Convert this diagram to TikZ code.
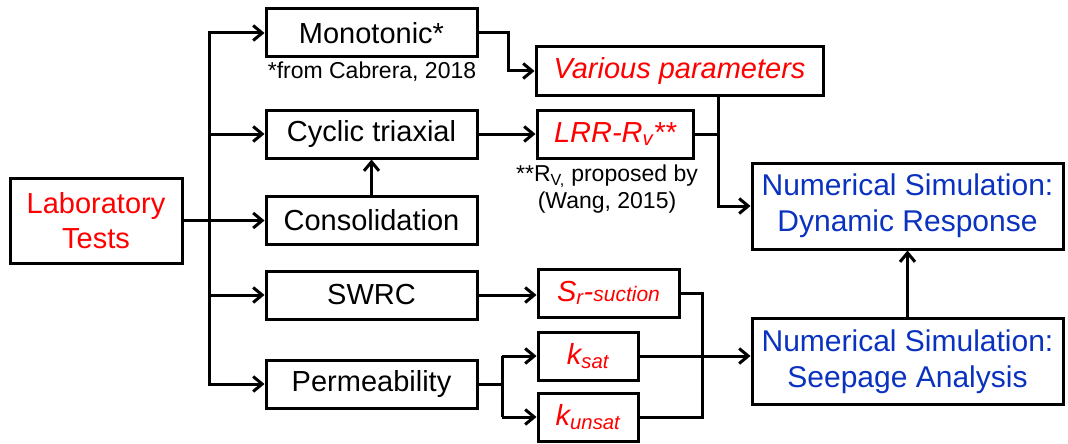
\documentclass[tikz,border=0pt]{standalone}
\usepackage{fontspec}
\setmainfont{Liberation Sans}
\usetikzlibrary{arrows.meta}
\definecolor{labred}{RGB}{255,0,0}
\definecolor{simblue}{RGB}{10,50,190}

\begin{document}
\begin{tikzpicture}[x=1pt,y=-1pt,line width=3pt,
		box/.style={draw,inner sep=0pt,minimum height=48pt,align=center,font=\fontsize{29}{35}\selectfont},
		simbox/.style={box,text=simblue,minimum width=311pt,minimum height=86pt,font=\fontsize{30}{36}\selectfont},
		note/.style={inner sep=0pt,align=center,font=\fontsize{23}{27}\selectfont},
		arr/.style={-{Straight Barb[length=9pt,width=15pt]}}]
		\useasboundingbox (0,0) rectangle (1068,444);

		% tests
		\node[box,text=labred,minimum width=172pt,minimum height=85pt] (lab) at (96,220.5) {Laboratory\\Tests};
		\node[box,minimum width=211pt] (mono) at (371.5,33) {Monotonic*};
		\node[box,minimum width=211pt] (cyc) at (371.5,134) {Cyclic triaxial};
		\node[box,minimum width=211pt] (cons) at (371.5,220.5) {Consolidation};
		\node[box,minimum width=211pt] (swrc) at (371.5,295) {SWRC};
		\node[box,minimum width=211pt] (perm) at (371.5,384) {Permeability};
		\node[note] (cab) at (372,72) {*from Cabrera, 2018};

		% parameters
		\node[box,text=labred,minimum width=287pt] (var) at (679.5,71) {\itshape Various parameters};
		\node[box,text=labred,minimum width=156pt] (lrr) at (615,134) {\itshape LRR-R\textsubscript{v}**};
		\node[note] (wang) at (607,189) {**R\textsubscript{V,} proposed by\\(Wang, 2015)};
		\node[box,text=labred,minimum width=141pt] (sr) at (608.5,293) {\itshape S\textsubscript{r}-{\fontsize{21}{21}\selectfont suction}};
		\node[box,text=labred,minimum width=100pt] (ksat) at (588,356) {\itshape k\textsubscript{sat}};
		\node[box,text=labred,minimum width=100pt] (kuns) at (588,417) {\itshape k\textsubscript{unsat}};

		% simulations
		\node[simbox] (dyn) at (907.5,206) {Numerical Simulation:\\Dynamic Response};
		\node[simbox] (seep) at (907.5,361.5) {Numerical Simulation:\\Seepage Analysis};

		\coordinate (tr) at (209,220.5);
		\coordinate (mj) at (508,0);
		\coordinate (vj) at (718,0);
		\coordinate (pj) at (502,0);
		\coordinate (sj) at (702,0);

		\draw (lab.east) -- (tr);
		\draw[arr] (tr) |- (mono.west);
		\draw[arr] (tr) |- (perm.west);
		\foreach \n in {cyc,cons,swrc} {
				\draw[arr] (\n.west -| tr) -- (\n.west);
			}
		\draw[arr] (cons.north) -- (cyc.south);

		\draw[arr] (mono.east) -| (mj |- cab) |- (var.west);
		\draw[arr] (cyc.east) -- (lrr.west);
		\draw (lrr.east) -- (lrr.east -| vj);
		\draw[arr] (var.south -| vj) |- (dyn.west);
		\draw[arr] (swrc.east) -- (swrc.east -| sr.west);

		\draw (perm.east) -- (perm.east -| pj);
		\draw[arr] (pj |- ksat.west) -- (ksat.west);
		\draw[arr] (pj |- kuns.west) -- (kuns.west);
		\draw (pj |- ksat.west) -- (pj |- kuns.west);
		\draw (sr.east) -| (sj |- kuns.east) -- (kuns.east);
		\draw[arr] (ksat.east) -- (ksat.east -| seep.west);
		\draw[arr] (seep.north) -- (dyn.south);
	\end{tikzpicture}
\end{document}
